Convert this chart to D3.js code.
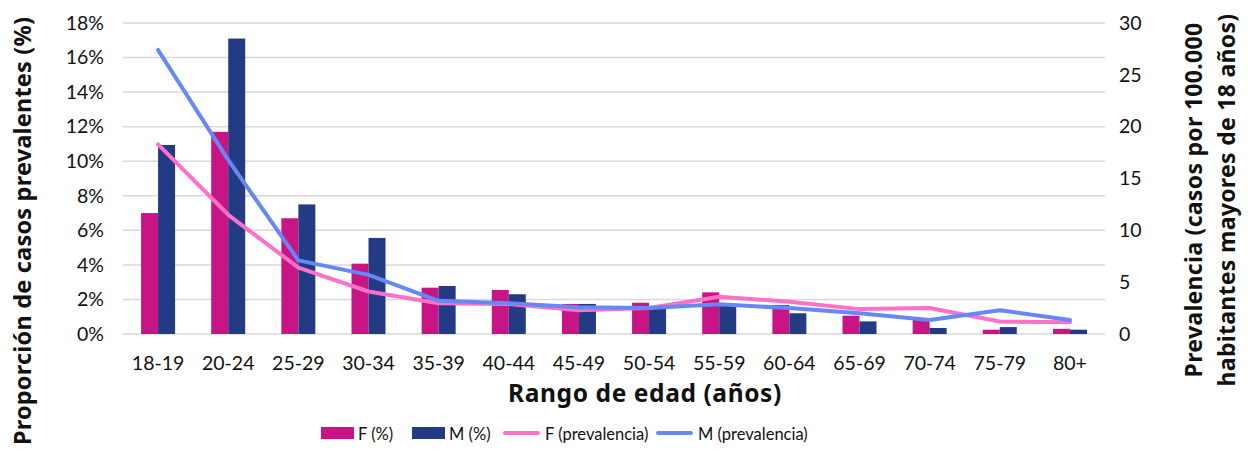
<!DOCTYPE html>
<html><head><meta charset="utf-8">
<script src="https://cdn.jsdelivr.net/npm/d3@7"></script>
<style>body{margin:0;background:#fff}svg{display:block}text{font-family:Lato,"Noto Sans",sans-serif;fill:#111}</style>
</head><body><svg id="c" width="1248" height="458"></svg>
<script>
const categories = ["18-19","20-24","25-29","30-34","35-39","40-44","45-49","50-54","55-59","60-64","65-69","70-74","75-79","80+"];
const fPct = [7.0,11.7,6.7,4.07,2.68,2.55,1.74,1.81,2.41,1.68,1.06,0.9,0.25,0.3];
const mPct = [10.94,17.1,7.5,5.56,2.78,2.3,1.74,1.6,1.7,1.2,0.73,0.35,0.4,0.25];
const fPrev = [18.3,11.5,6.4,4.1,2.96,2.9,2.3,2.5,3.6,3.1,2.4,2.5,1.2,1.13];
const mPrev = [27.4,16.8,7.1,5.7,3.2,2.96,2.57,2.5,2.86,2.5,2.0,1.35,2.3,1.35];
const leftTicks = [0,2,4,6,8,10,12,14,16,18];
const rightTicks = [0,5,10,15,20,25,30];
const legendItems = [
  {label:"F (%)", type:"bar", color:"#C71585"},
  {label:"M (%)", type:"bar", color:"#233A85"},
  {label:"F (prevalencia)", type:"line", color:"#FF70C8"},
  {label:"M (prevalencia)", type:"line", color:"#6688F5"}
];

const svg = d3.select("#c");
const L=123, R=1105, T=23, B=334;
const x = d3.scaleBand().domain(categories).range([L,R]).paddingInner(0).paddingOuter(0);
const yL = d3.scaleLinear().domain([0,18]).range([B,T]);
const yR = d3.scaleLinear().domain([0,30]).range([B,T]);

// gridlines
svg.append("g").selectAll("line").data(leftTicks).join("line")
  .attr("x1",L).attr("x2",R).attr("y1",d=>yL(d)).attr("y2",d=>yL(d))
  .attr("stroke","#d9d9d9").attr("stroke-width",1.5);

// left axis
const axL = svg.append("g").attr("transform",`translate(${L-13},0)`)
  .call(d3.axisLeft(yL).tickValues(leftTicks).tickFormat(d=>d+"%").tickSize(0).tickPadding(6));
axL.select(".domain").remove();
axL.selectAll("text").style("font-size","19.5px").attr("fill","#111");

// right axis
const axR = svg.append("g").attr("transform",`translate(${R+10},0)`)
  .call(d3.axisRight(yR).tickValues(rightTicks).tickSize(0).tickPadding(4));
axR.select(".domain").remove();
axR.selectAll("text").style("font-size","19.5px").attr("fill","#111");

// x axis
const axX = svg.append("g").attr("transform",`translate(0,${B+18})`)
  .call(d3.axisBottom(x).tickSize(0).tickPadding(4));
axX.select(".domain").remove();
axX.selectAll("text").style("font-size","19.5px").attr("fill","#111");

// bars
const bw = 17;
svg.append("g").selectAll("rect").data(categories).join("rect")
  .attr("x",(d)=>x(d)+x.bandwidth()/2-bw).attr("width",bw)
  .attr("y",(d,i)=>yL(fPct[i])).attr("height",(d,i)=>B-yL(fPct[i]))
  .attr("fill","#C71585");
svg.append("g").selectAll("rect").data(categories).join("rect")
  .attr("x",(d)=>x(d)+x.bandwidth()/2).attr("width",bw)
  .attr("y",(d,i)=>yL(mPct[i])).attr("height",(d,i)=>B-yL(mPct[i]))
  .attr("fill","#233A85");

// lines
const line = vals => d3.line().x((d,i)=>x(categories[i])+x.bandwidth()/2).y(d=>yR(d))(vals);
svg.append("path").attr("d",line(fPrev)).attr("fill","none").attr("stroke","#FF70C8").attr("stroke-width",4).attr("stroke-linejoin","round").attr("stroke-linecap","round");
svg.append("path").attr("d",line(mPrev)).attr("fill","none").attr("stroke","#6688F5").attr("stroke-width",4).attr("stroke-linejoin","round").attr("stroke-linecap","round");

// titles
const tf = "'Noto Sans',sans-serif";
svg.append("text").attr("transform","translate(31,231) rotate(-90)").attr("text-anchor","middle")
  .style("font-family",tf).style("font-size","23.5px").style("font-weight","bold").style("letter-spacing","0.2px").text("Proporción de casos prevalentes (%)");
svg.append("text").attr("transform","translate(1202,200) rotate(-90)").attr("text-anchor","middle")
  .style("font-family",tf).style("font-size","23px").style("font-weight","bold").style("letter-spacing","0.3px").text("Prevalencia (casos por 100.000");
svg.append("text").attr("transform","translate(1235,200) rotate(-90)").attr("text-anchor","middle")
  .style("font-family",tf).style("font-size","23px").style("font-weight","bold").style("letter-spacing","0.3px").text("habitantes mayores de 18 años)");
svg.append("text").attr("x",645).attr("y",402).attr("text-anchor","middle")
  .style("font-family",tf).style("font-size","24.5px").style("font-weight","bold").style("letter-spacing","0.6px").text("Rango de edad (años)");

// legend
const lx = [321,412,503,656];
const lg = svg.append("g");
legendItems.forEach((it,i)=>{
  if(it.type==="bar"){
    lg.append("rect").attr("x",lx[i]).attr("y",427).attr("width",33).attr("height",12).attr("fill",it.color);
    lg.append("text").attr("x",lx[i]+37).attr("y",440).style("font-size","16.5px").text(it.label);
  } else {
    lg.append("line").attr("x1",lx[i]+2).attr("x2",lx[i]+35).attr("y1",433).attr("y2",433)
      .attr("stroke",it.color).attr("stroke-width",4).attr("stroke-linecap","round");
    lg.append("text").attr("x",lx[i]+42).attr("y",440).style("font-size","16.5px").text(it.label);
  }
});
</script></body></html>
